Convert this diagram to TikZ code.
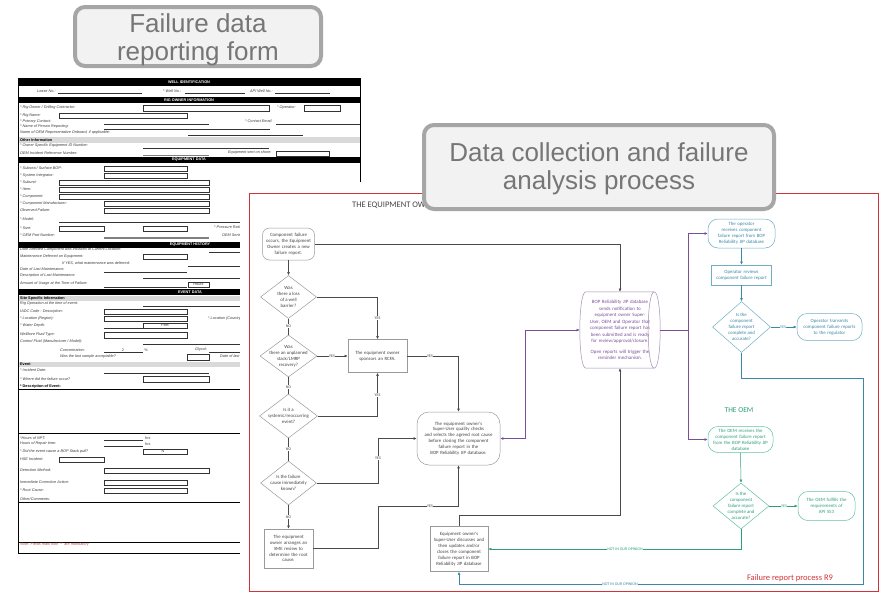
\documentclass[tikz,border=0pt]{standalone}
\usepackage{fontspec}
\setmainfont{Liberation Sans}
\newfontfamily\carl{Carlito}
\usetikzlibrary{shapes.geometric,arrows.meta}
\definecolor{cbrd}{HTML}{A6A6A6}
\definecolor{cfill}{HTML}{F2F2F2}
\definecolor{ctxt}{HTML}{767676}
\definecolor{ftxt}{HTML}{3A3A3A}
\definecolor{fgray}{HTML}{D9D9D9}
\definecolor{fred}{HTML}{C0504D}
\definecolor{olc}{HTML}{4A4A4A}
\definecolor{obrd}{HTML}{9A9A9A}
\definecolor{otxt}{HTML}{444444}
\definecolor{plc}{HTML}{7A4E9A}
\definecolor{pbrd}{HTML}{A58DB5}
\definecolor{tlc}{HTML}{3A88A3}
\definecolor{tbrd}{HTML}{6FAFC5}
\definecolor{glc}{HTML}{2E9E7C}
\definecolor{gbrd}{HTML}{62C29F}
\definecolor{rframe}{HTML}{D0343A}
\newcounter{fcnt}
\newcommand{\ffont}{\fontsize{3.8}{4.4}\selectfont}
\newcommand{\fcf}{\carl\fontsize{4.8}{5.9}\selectfont}
\newcommand{\flab}[3]{\stepcounter{fcnt}\node[fl] (fl\thefcnt) at (#1,#2) {#3};}
\newcommand{\fbx}[4]{\draw[fbx] (#1,#2) rectangle (#3,#4);}
\newcommand{\flin}[3]{\draw[fln] (#1,#3) -- (#2,#3);}
\tikzset{
  fl/.style={anchor=west, font=\ffont\itshape, text=ftxt, inner sep=0pt},
  fh/.style={font=\ffont\bfseries, text=white, inner sep=0pt},
  fs/.style={anchor=west, font=\ffont\bfseries, text=black, inner sep=0pt},
  fc/.style={font=\ffont, text=ftxt, inner sep=0pt},
  fbx/.style={draw=black!80, line width=0.45pt},
  fln/.style={draw=black!80, line width=0.4pt},
  callout/.style={draw=cbrd, line width=4pt, fill=cfill, rounded corners=10pt},
  ctext/.style={font=\fontsize{26}{28}\selectfont, text=ctxt, align=center, inner sep=0pt},
  ob/.style={font=\fcf, align=center, text=otxt, draw=obrd, line width=0.5pt, fill=white, inner sep=1pt},
  oterm/.style={ob, rounded corners=7pt},
  odia/.style={ob, diamond, inner sep=0pt},
  dtxt/.style={font=\fcf, align=center, text=otxt, inner sep=0pt},
  ol/.style={draw=olc, line width=0.5pt},
  pl/.style={draw=plc, line width=0.5pt},
  tl/.style={draw=tlc, line width=0.5pt},
  gl/.style={draw=glc, line width=0.5pt},
  arr/.style={-{Latex[length=3.2pt,width=2.8pt]}},
  darr/.style={{Latex[length=3.2pt,width=2.8pt]}-{Latex[length=3.2pt,width=2.8pt]}},
  lab/.style={font=\carl\fontsize{4}{4.5}\selectfont, fill=white, inner sep=0.6pt, text=otxt},
}
\begin{document}
\begin{tikzpicture}[x=1pt,y=-1pt]
\useasboundingbox (0,0) rectangle (881,592);
\fill[white] (0,0) rectangle (881,592);

% ---------------- form ----------------
\fill[white] (18,78) rectangle (360,553);
\fill[black] (18,78) rectangle (360,85.5);
\node[fh] (h1) at (189,81.8) {WELL IDENTIFICATION};
\flab{37}{91}{Lease No.:} \flin{58}{142}{93}
\flab{163}{91}{* Well No.:} \flin{185}{245}{93}
\flab{250}{91}{API Well No.:} \flin{275}{330}{93}
\fill[black] (18,97) rectangle (360,102.5);
\node[fh] (h2) at (189,99.8) {RIG OWNER INFORMATION};
\flab{20}{108}{* Rig Owner / Drilling Contractor:} \fbx{143}{105}{269}{111}
\flab{277}{108}{* Operator:} \fbx{304}{105}{340}{111}
\flab{20}{115.5}{* Rig Name:} \fbx{59}{113}{187}{118}
\flab{20}{121.5}{* Primary Contact:} \flin{104}{209}{124}
\flab{245}{121.5}{* Contact Email:} \flin{276}{360}{124}
\flab{20}{127}{* Name of Person Reporting:} \flin{104}{270}{129}
\flab{20}{132.5}{Name of OEM Representative Onboard, if applicable:} \flin{188}{303}{135}
\fill[fgray] (18,137) rectangle (360,142.5);
\node[fs] (s1) at (20,139.8) {Other Information};
\flab{20}{146}{* Owner Specific Equipment ID Number:} \flin{143}{269}{148}
\flab{20}{153}{OEM Incident Reference Number:} \draw[fln,draw=gray] (143,155.5) -- (209,155.5);
\flab{228}{153}{Equipment sent on shore:} \fbx{276}{151}{329}{156}
\fill[black] (18,157) rectangle (360,163);
\node[fh] (h3) at (189,160) {EQUIPMENT DATA};
\flab{20}{168.5}{* Subsea / Surface BOP:} \fbx{104}{166}{187}{171}
\flab{20}{175.5}{* System Integrator:} \fbx{104}{173}{187}{178}
\flab{20}{182.5}{* Subunit:} \fbx{59}{180}{209}{185}
\flab{20}{189.5}{* Item:} \fbx{59}{187}{209}{192}
\flab{20}{196.5}{* Component:} \fbx{59}{194}{209}{199}
\flab{20}{203.5}{* Component Manufacturer:} \fbx{104}{201}{209}{206}
\flab{20}{210.5}{Observed Failure:} \fbx{104}{208}{209}{213}
\flab{20}{219}{* Model:} \flin{59}{240}{222}
\flab{20}{228}{* Size:} \fbx{59}{226}{104}{231} \fbx{143}{226}{187}{231}
\flab{214}{228}{* Pressure Rating:}
\flab{20}{235}{* OEM Part Number:} \flab{222}{235}{OEM Serial Number:}
\draw[line width=1.4pt, gray] (104,238) -- (209,238);
\fill[black] (18,242) rectangle (360,247.5);
\node[fh] (h4) at (190,244.8) {EQUIPMENT HISTORY};
\flab{20}{250}{Date Affected Component was installed at Current Location:} \flin{209}{240}{252}
\flab{20}{256.5}{Maintenance Deferred on Equipment:} \fbx{143}{254}{187}{259}
\flab{62}{263}{If YES, what maintenance was deferred:} \flin{188}{240}{266}
\flab{20}{269.5}{Date of Last Maintenance:} \flin{104}{187}{272}
\flab{20}{276}{Description of Last Maintenance:} \flin{143}{240}{278}
\flab{20}{284}{Amount of Usage at the Time of Failure:} \flin{104}{187}{287}
\fbx{188}{282}{209}{287} \node[fc] (hrs0) at (198.5,284.5) {Hours};
\fill[black] (18,289) rectangle (360,295);
\node[fh] (h5) at (190,292) {EVENT DATA};
\fill[fgray] (18,296) rectangle (360,301);
\node[fs] (s2) at (20,298.5) {Site Specific Information};
\flab{20}{304}{Rig Operation at the time of event:} \flin{143}{240}{306}
\flab{20}{311.5}{IADC Code - Description:} \fbx{104}{309}{187}{314}
\flab{20}{318.5}{* Location (Region):} \fbx{104}{316}{187}{321}
\flab{208}{318.5}{* Location (Country):}
\flab{20}{325.5}{* Water Depth:} \flin{104}{143}{328}
\fbx{143}{323}{187}{328} \node[fc] (ft) at (165,325.5) {Feet};
\flab{20}{335}{Wellbore Fluid Type:} \fbx{104}{332}{187}{338}
\flab{20}{342}{Control Fluid (Manufacturer / Model):} \flin{143}{240}{344}
\flab{60}{350}{Concentration:} \flin{104}{143}{352}
\node[fc] (two) at (123,350) {2}; \node[fc] (pc) at (146,350) {\%};
\flab{195}{350}{Glycol:} \flin{209}{240}{352}
\flab{60}{357}{Was the last sample acceptable?} \fbx{187}{354}{209}{360}
\flab{220}{357}{Date of last sample:}
\fill[fgray] (18,362) rectangle (360,367);
\node[fs] (s3) at (20,364.5) {Event};
\flab{20}{370.5}{* Incident Date:} \flin{104}{209}{373}
\flab{20}{379}{* Where did the failure occur?} \fbx{143}{376}{209}{382}
\node[fs] (s4) at (20,386.5) {* Description of Event:};
\draw[line width=0.5pt] (18,389) -- (360,389);
\draw[line width=0.5pt] (18,433) -- (360,433);
\flab{20}{438}{*Hours of NPT:} \flin{104}{143}{440.5} \flab{145}{438}{hrs}
\flab{20}{444}{Hours of Repair time:} \flin{104}{143}{446.5} \flab{145}{444}{hrs}
\flab{20}{451.5}{* Did the event cause a BOP Stack pull?} \fbx{143}{449}{187}{454}
\node[fc] (nn) at (163,451.5) {N};
\flab{20}{459}{HSE Incident:} \fbx{59}{457}{104}{462}
\flab{20}{470.5}{Detection Method:} \fbx{104}{468}{209}{473}
\flab{20}{482.5}{Immediate Corrective Action:} \fbx{104}{480}{187}{485}
\flab{20}{490.5}{* Root Cause:} \fbx{104}{488}{187}{493}
\flab{20}{499}{Other/Comments:}
\draw[line width=0.5pt] (18,502) -- (360,502);
\draw[line width=0.5pt] (18,542) -- (360,542);
\node[fl, text=fred] (note) at (20,545) {Note: Fields mark with "*" are mandatory};
\draw[line width=0.9pt] (18,553) -- (360,553);
\draw[line width=0.8pt] (18,78) -- (18,553);
\draw[line width=0.8pt] (360,78) -- (360,553);

% ---------------- callout 1 ----------------
\node[callout, minimum width=246pt, minimum height=59pt] (c1) at (198,36.5) {};
\node[ctext] (c1t) at (198,39.5) {Failure data\\reporting form};

% ---------------- flowchart ----------------
\fill[white] (240,182) rectangle (881,592);
\draw[draw=rframe, line width=0.8pt] (249,193) rectangle (878,591);
\node[anchor=west, font=\carl\fontsize{8.5}{10}\selectfont, text=otxt, inner sep=0pt] (ttl) at (352,205) {THE EQUIPMENT OWNER};

% owner nodes
\node[oterm, minimum width=52pt, minimum height=32pt, text width=50pt] (start) at (288.5,244)
  {Component failure\\occurs, the Equipment\\Owner creates a new\\failure report.};
\node[odia, minimum width=56pt, minimum height=43pt,
  label={[dtxt]center:{Was\\there a loss\\of a well\\barrier?}}] (d1) at (288.5,297) {};
\node[odia, minimum width=57pt, minimum height=42pt,
  label={[dtxt]center:{Was\\there an unplanned\\stack/LMRP\\recovery?}}] (d2) at (288.5,356) {};
\node[odia, minimum width=58pt, minimum height=44pt,
  label={[dtxt]center:{Is it a\\systemic/reoccurring\\event?}}] (d3) at (288.5,416) {};
\node[odia, minimum width=56pt, minimum height=44pt,
  label={[dtxt]center:{Is the failure\\cause immediately\\known?}}] (d4) at (288.5,483) {};
\node[ob, minimum width=49pt, minimum height=39pt, text width=46pt] (sme) at (288.5,548.5)
  {The equipment\\owner arranges an\\SME review to\\determine the root\\cause.};
\node[ob, minimum width=59pt, minimum height=33pt, text width=56pt] (rcfa) at (377.5,356)
  {The equipment owner\\sponsors an RCFA.};
\node[oterm, rounded corners=12pt, minimum width=83pt, minimum height=53pt, text width=80pt] (su) at (458.5,438.5)
  {The equipment owner's\\Super-User quality checks\\and selects the agreed root cause\\before closing the component\\failure report in the\\BOP Reliability JIP database.};
\node[ob, minimum width=58pt, minimum height=45pt, text width=56pt] (su2) at (459,549)
  {Equipment owner's\\Super-User discusses and\\then updates and/or\\closes the component\\failure report in BOP\\Reliability JIP database};
\node[minimum width=80pt, minimum height=76pt, font=\carl\fontsize{4.9}{6.5}\selectfont, align=center, text=plc,
  text width=66pt, inner sep=0pt] (db) at (620,330)
  {BOP Reliability JIP database\\sends notification to\\equipment owner Super-\\User, OEM and Operator that\\component failure report has\\been submitted and is ready\\for review/approval/closure.\\[4pt]Open reports will trigger the\\reminder mechanism.};
\draw[draw=pbrd, line width=0.5pt]
  ([xshift=6pt]db.north west) -- ([xshift=-6pt]db.north east)
  .. controls ([xshift=2pt]db.north east) and ([xshift=2pt]db.south east) .. ([xshift=-6pt]db.south east)
  -- ([xshift=6pt]db.south west)
  .. controls ([xshift=-2pt]db.south west) and ([xshift=-2pt]db.north west) .. cycle;
\draw[draw=pbrd, line width=0.5pt]
  ([xshift=-6pt]db.north east) .. controls ([xshift=-14pt]db.north east) and ([xshift=-14pt]db.south east) .. ([xshift=-6pt]db.south east);

% operator nodes
\node[oterm, draw=tbrd, text=tlc, rounded corners=10pt, minimum width=67pt, minimum height=29pt, text width=64pt] (op1) at (741.5,233.5)
  {The operator\\receives component\\failure report from BOP\\Reliability JIP database};
\node[ob, draw=tbrd, text=tlc, minimum width=60pt, minimum height=20pt, text width=58pt] (op2) at (741.5,275)
  {Operator reviews\\component failure report};
\node[odia, draw=tbrd, minimum width=58pt, minimum height=51pt,
  label={[dtxt, text=tlc]center:{Is the\\component\\failure report\\complete and\\accurate?}}] (op3) at (741.5,327) {};
\node[oterm, draw=tbrd, text=tlc, rounded corners=10pt, minimum width=65pt, minimum height=27pt, text width=63pt] (op4) at (829.5,327)
  {Operator transmits\\component failure reports\\to the regulator};

% OEM nodes
\node[font=\carl\fontsize{7.5}{8}\selectfont, text=glc, inner sep=0pt] (oemt) at (739,410) {THE OEM};
\node[oterm, draw=gbrd, text=glc, rounded corners=10pt, minimum width=65pt, minimum height=26pt, text width=63pt] (oem1) at (740.5,439.5)
  {The OEM receives the\\component failure report\\from the BOP Reliability JIP\\database};
\node[odia, draw=gbrd, minimum width=56pt, minimum height=46pt,
  label={[dtxt, text=glc]center:{Is the\\component\\failure report\\complete and\\accurate?}}] (oem2) at (741,506) {};
\node[oterm, draw=gbrd, text=glc, rounded corners=10pt, minimum width=57pt, minimum height=29pt, text width=55pt] (oem3) at (826.5,506)
  {The OEM fulfills the\\requirements of\\API S53};

\node[font=\carl\fontsize{8.5}{10}\selectfont, text=rframe, inner sep=0pt] (r9) at (790,578) {Failure report process R9};

% connectors
\coordinate (k1) at (378,506);
\coordinate (k2) at (378,438.5);
\coordinate (k3) at (525,438.5);
\coordinate (k4) at (459,515);
\coordinate (k5) at (688,330);
\coordinate (k6) at (863,378);
\coordinate (k7) at (863,584);

\draw[ol,arr] (start.south) -- (d1.north);
\draw[ol,arr] (start.east) -| (db.north);
\draw[ol] (d1.south) -- (d2.north);
\draw[ol] (d2.south) -- (d3.north);
\draw[ol] (d3.south) -- (d4.north);
\draw[ol,arr] (d4.south) -- (sme.north);
\draw[ol,arr] (d1.east) -| (rcfa.north);
\draw[ol,arr] (d2.east) -- (rcfa.west);
\draw[ol,arr] (d3.east) -| (rcfa.south);
\draw[ol,arr] (rcfa.east) -| (su.north);
\draw[ol,arr] (d4.east) -| (k2) -- (su.west);
\draw[ol,arr] (sme.east) -| (k1) -| (su.south);
\draw[pl,darr] (su.east) -- (k3) |- (db.west);
\draw[ol,arr] (su2.north) -- (k4) -| (db.south);
\draw[pl,arr] (db.east) -- (k5) |- (op1.west);
\draw[pl,arr] (k5) |- (oem1.west);
\draw[tl,arr] (op1.south) -- (op2.north);
\draw[tl,arr] (op2.south) -- (op3.north);
\draw[tl,arr] (op3.east) -- (op4.west);
\draw[tl,arr] (op3.south) |- (k6) -- (k7) -| (su2.south);
\draw[gl,arr] (oem1.south) -- (oem2.north);
\draw[gl,arr] (oem2.east) -- (oem3.west);
\draw[gl,arr] (oem2.south) |- (su2.east);

% connector labels
\node[lab] (y1) at (377.5,318) {YES};
\node[lab] (y2) at (332,356) {YES};
\node[lab] (y3) at (377.5,395) {YES};
\node[lab] (y4) at (430,356) {YES};
\node[lab] (y5) at (378,458) {YES};
\node[lab] (y6) at (430,506) {YES};
\node[lab] (n1) at (288.5,326) {NO};
\node[lab] (n2) at (288.5,387) {NO};
\node[lab] (n3) at (288.5,449) {NO};
\node[lab] (n4) at (288.5,517) {NO};
\node[lab, text=tlc] (y7) at (783,327) {YES};
\node[lab, text=glc] (y8) at (784,506) {YES};
\node[lab, text=glc] (nio1) at (625,549) {NOT IN OUR OPINION};
\node[lab, text=tlc] (nio2) at (620,584) {NOT IN OUR OPINION};

% ---------------- callout 2 ----------------
\node[callout, minimum width=350pt, minimum height=84pt] (c2) at (599,167) {};
\node[ctext] (c2t) at (599,169) {Data collection and failure\\analysis process};
\end{tikzpicture}
\end{document}
